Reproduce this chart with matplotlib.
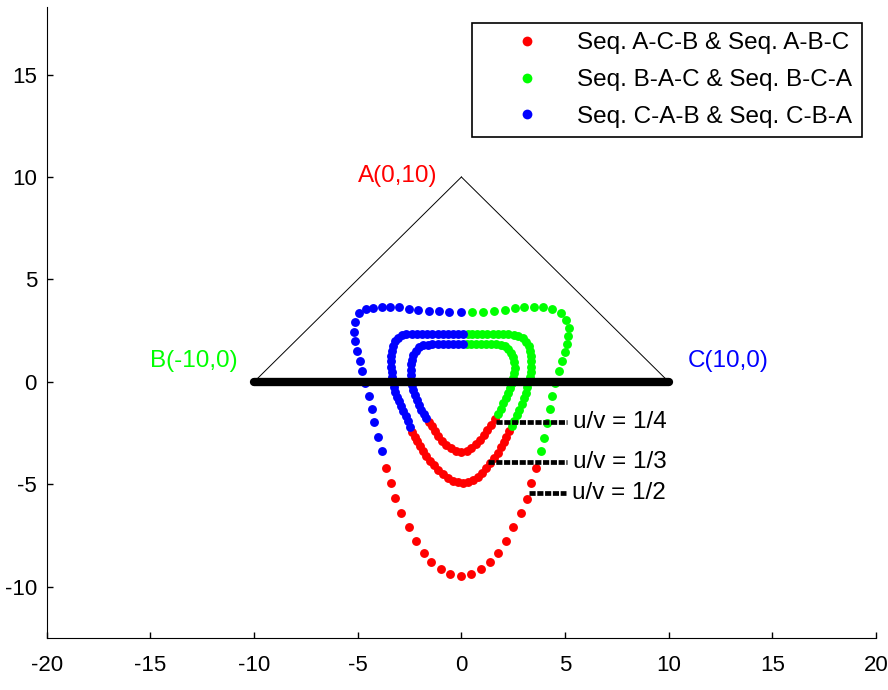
import numpy as np
import matplotlib
matplotlib.use("Agg")
import matplotlib.pyplot as plt

plt.rcParams['font.family'] = ['Liberation Sans', 'DejaVu Sans']
plt.rcParams['axes.unicode_minus'] = False

# triangle vertices
tri_x = [-10, 0, 10]
tri_y = [0, 10, 0]
vert_labels = ['A(0,10)', 'B(-10,0)', 'C(10,0)']

# outer loop (dots)
out_blue = [(0.0, 3.42), (-0.61, 3.42), (-1.10, 3.44), (-1.58, 3.48), (-2.07, 3.52), (-2.55, 3.58),
            (-2.99, 3.64), (-3.44, 3.66), (-3.84, 3.66), (-4.25, 3.63), (-4.6, 3.55), (-4.92, 3.34),
            (-5.15, 2.9), (-5.2, 2.44), (-5.13, 1.98), (-5.04, 1.5), (-4.9, 1.02), (-4.8, 0.53),
            (-4.65, -0.07), (-4.48, -0.68), (-4.33, -1.32), (-4.2, -1.97), (-4.02, -2.68), (-3.84, -3.37)]
out_red = [(-3.63, -4.19), (-3.38, -4.92), (-3.2, -5.65), (-2.92, -6.39), (-2.55, -7.07), (-2.18, -7.77),
           (-1.82, -8.33), (-1.45, -8.8), (-0.98, -9.14), (-0.53, -9.37), (0.0, -9.47), (0.48, -9.37),
           (0.95, -9.14), (1.4, -8.8), (1.78, -8.33), (2.13, -7.77), (2.5, -7.07), (2.86, -6.39),
           (3.15, -5.7), (3.34, -4.95), (3.58, -4.19)]
out_green = [(3.83, -3.38), (3.98, -2.72), (4.12, -2.02), (4.25, -1.32), (4.36, -0.68), (4.52, -0.05),
             (4.72, 0.53), (4.86, 1.02), (4.98, 1.44), (5.08, 1.84), (5.16, 2.24), (5.18, 2.64),
             (5.06, 3.04), (4.8, 3.37), (4.39, 3.58), (3.94, 3.64), (3.5, 3.66), (3.02, 3.66),
             (2.58, 3.61), (2.1, 3.53), (1.57, 3.45), (1.03, 3.41), (0.52, 3.41)]

# middle loop
mid_blue = [(0.1, 2.35), (-0.15, 2.35), (-0.4, 2.35), (-0.65, 2.35), (-0.9, 2.35), (-1.15, 2.35),
            (-1.4, 2.35), (-1.65, 2.35), (-1.9, 2.35), (-2.15, 2.34), (-2.4, 2.34), (-2.65, 2.32),
            (-2.88, 2.27), (-3.08, 2.16), (-3.22, 1.98), (-3.31, 1.76), (-3.37, 1.5), (-3.4, 1.25),
            (-3.4, 1.0), (-3.39, 0.75), (-3.37, 0.5), (-3.34, 0.25), (-3.3, 0.0), (-3.25, -0.25),
            (-3.18, -0.5), (-3.1, -0.72), (-3.01, -0.95), (-2.91, -1.17), (-2.8, -1.4), (-2.68, -1.65),
            (-2.58, -1.9), (-2.47, -2.2)]
mid_red = [(-2.36, -2.45), (-2.25, -2.68), (-2.13, -2.9), (-2.0, -3.12), (-1.85, -3.38), (-1.7, -3.6),
           (-1.52, -3.85), (-1.32, -4.08), (-1.12, -4.3), (-0.9, -4.5), (-0.66, -4.68), (-0.42, -4.82),
           (-0.18, -4.9), (0.06, -4.92), (0.3, -4.88), (0.54, -4.78), (0.78, -4.62), (1.0, -4.44),
           (1.2, -4.22), (1.4, -3.98), (1.58, -3.73), (1.75, -3.47), (1.9, -3.2), (2.04, -2.94),
           (2.17, -2.68), (2.3, -2.42)]
mid_green = [(2.43, -2.17), (2.56, -1.9), (2.68, -1.63), (2.8, -1.35), (2.92, -1.08), (3.02, -0.8),
             (3.1, -0.52), (3.17, -0.25), (3.23, 0.0), (3.29, 0.25), (3.34, 0.5), (3.37, 0.75),
             (3.38, 1.0), (3.37, 1.25), (3.33, 1.5), (3.25, 1.73), (3.12, 1.95), (2.95, 2.13),
             (2.75, 2.25), (2.52, 2.31), (2.27, 2.34), (2.0, 2.35), (1.75, 2.35), (1.5, 2.35),
             (1.25, 2.35), (1.0, 2.35), (0.75, 2.35), (0.5, 2.35), (0.3, 2.35)]

# inner loop
in_blue = [(0.1, 1.83), (-0.15, 1.83), (-0.4, 1.83), (-0.65, 1.83), (-0.9, 1.83), (-1.15, 1.83),
           (-1.4, 1.83), (-1.62, 1.82), (-1.85, 1.78), (-2.05, 1.68), (-2.21, 1.52), (-2.33, 1.31),
           (-2.4, 1.08), (-2.44, 0.85), (-2.45, 0.6), (-2.44, 0.35), (-2.42, 0.1), (-2.38, -0.15),
           (-2.32, -0.4), (-2.24, -0.65), (-2.15, -0.9), (-2.04, -1.12), (-1.93, -1.35),
           (-1.82, -1.55), (-1.7, -1.75)]
in_red = [(-1.58, -1.96), (-1.44, -2.17), (-1.29, -2.42), (-1.12, -2.65), (-0.93, -2.88), (-0.72, -3.08),
          (-0.5, -3.24), (-0.26, -3.35), (0.0, -3.4), (0.25, -3.35), (0.48, -3.22), (0.7, -3.04),
          (0.9, -2.83), (1.08, -2.6), (1.25, -2.35), (1.42, -2.1), (1.62, -1.8)]
in_green = [(1.78, -1.55), (1.9, -1.3), (2.02, -1.05), (2.15, -0.8), (2.26, -0.55), (2.36, -0.3),
            (2.44, -0.05), (2.5, 0.2), (2.55, 0.45), (2.57, 0.7), (2.56, 0.95), (2.5, 1.2),
            (2.41, 1.42), (2.27, 1.6), (2.1, 1.73), (1.9, 1.8), (1.68, 1.83), (1.45, 1.84),
            (1.2, 1.84), (0.95, 1.84), (0.7, 1.84), (0.45, 1.84), (0.25, 1.84)]

# u/v pointer lines
uv_labels = ['u/v = 1/4', 'u/v = 1/3', 'u/v = 1/2']
uv_y = [-1.97, -3.92, -5.42]
uv_x0 = [1.65, 1.3, 3.26]
uv_x1 = [5.1, 5.1, 5.05]

seq_labels = ['Seq. A-C-B & Seq. A-B-C', 'Seq. B-A-C & Seq. B-C-A', 'Seq. C-A-B & Seq. C-B-A']
RED, GREEN, BLUE = '#ff0000', '#00ff00', '#0000ff'

fig = plt.figure(figsize=(8.88, 6.9), dpi=100)
ax = fig.add_axes([0.0526, 0.0754, 0.934, 0.9145])

groups = [(RED, [out_red, mid_red, in_red]),
          (GREEN, [out_green, mid_green, in_green]),
          (BLUE, [out_blue, mid_blue, in_blue])]
for k, (col, segs) in enumerate(groups):
    for i, seg in enumerate(segs):
        pts = np.array(seg)
        ax.plot(pts[:, 0], pts[:, 1], ls='none', marker='o', ms=6.4, mfc=col, mec=col, mew=0,
                label=seq_labels[k] if i == 0 else None, zorder=3)

# triangle sides and thick base
ax.plot(tri_x[:2], tri_y[:2], color='k', lw=0.7, zorder=2)
ax.plot(tri_x[1:], tri_y[1:], color='k', lw=0.7, zorder=2)
ax.plot([tri_x[0], tri_x[2]], [tri_y[0], tri_y[2]], color='k', lw=6, solid_capstyle='round', zorder=4)

ax.text(-1.15, 10.05, vert_labels[0], color=RED, fontsize=17.5, ha='right', va='center')
ax.text(-10.8, 1.0, vert_labels[1], color=GREEN, fontsize=17.5, ha='right', va='center')
ax.text(10.9, 1.0, vert_labels[2], color=BLUE, fontsize=17.5, ha='left', va='center')

for lab, y, x0, x1 in zip(uv_labels, uv_y, uv_x0, uv_x1):
    ax.plot([x0, x1], [y, y], color='k', lw=3.4, ls=(0, (1.3, 0.35)), zorder=5)
    ax.text(x1 + 0.3, y, lab, fontsize=17.5, ha='left', va='center')

ax.set_xlim(-20, 20)
ax.set_ylim(-12.5, 18.3)
ax.set_xticks(np.arange(-20, 21, 5))
ax.set_yticks(np.arange(-10, 16, 5))
ax.spines['top'].set_visible(False)
ax.spines['right'].set_visible(False)
ax.tick_params(direction='in', length=4, labelsize=16, width=1)
ax.tick_params(axis='x', pad=12)
ax.tick_params(axis='y', pad=7)

leg = ax.legend(loc='upper right', bbox_to_anchor=(0.983, 0.975), borderaxespad=0,
                fontsize=17.5, handlelength=3.8, handletextpad=0.15, borderpad=0.4,
                labelspacing=0.6, fancybox=False, framealpha=1, edgecolor='k', markerscale=1.1)
leg.get_frame().set_linewidth(1.2)

fig.savefig('out.png', dpi=100)
